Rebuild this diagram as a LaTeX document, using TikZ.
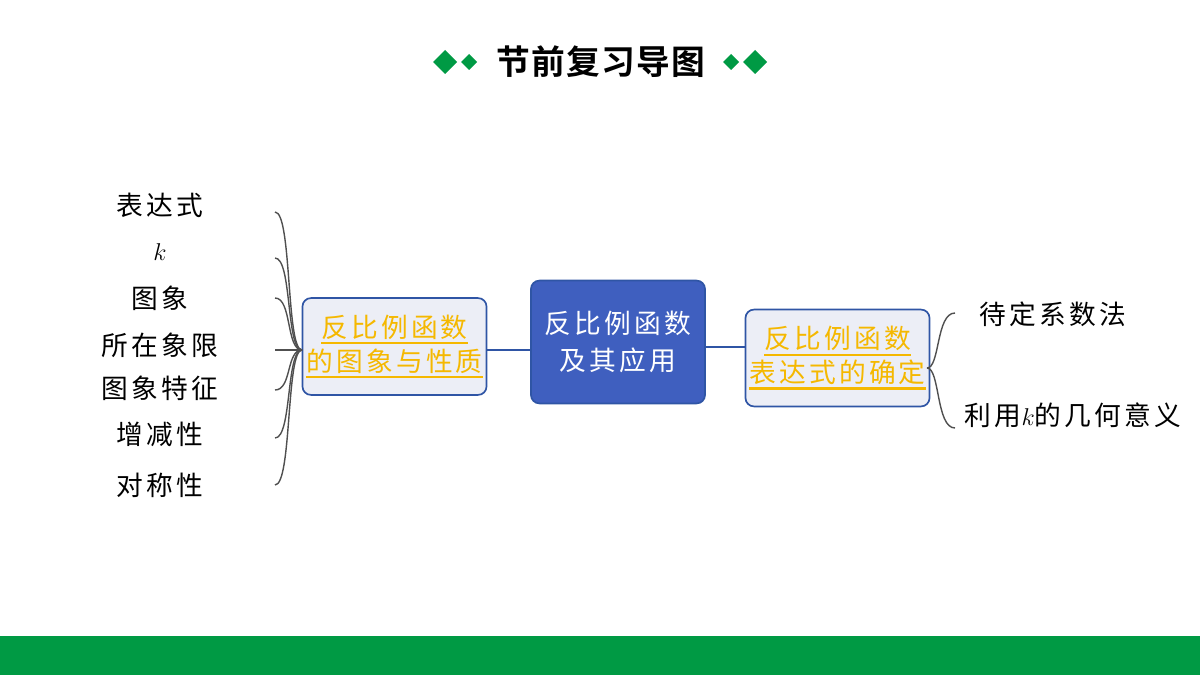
\documentclass[tikz,border=0pt]{standalone}
\usepackage{fontspec}
\setmainfont{Noto Sans CJK SC}[LetterSpace=12]
\newfontfamily\cjkbold{Noto Sans CJK SC Bold}
\usetikzlibrary{positioning,calc}
\definecolor{bandgreen}{RGB}{0,154,68}
\definecolor{boxblue}{RGB}{47,85,165}
\definecolor{corefill}{RGB}{63,95,191}
\definecolor{lightfill}{RGB}{236,238,246}
\definecolor{linkorange}{RGB}{245,184,0}
\definecolor{bracegray}{RGB}{80,80,80}
\newcommand\uln[1]{\setbox0\hbox{#1}\leavevmode\rlap{\rule[-5pt]{\wd0}{1.6pt}}\box0}
\tikzset{
    sub/.style={draw=boxblue, line width=1.2pt, fill=lightfill, rounded corners=6pt, align=center, text=linkorange,
        inner sep=0pt, minimum width=4.6cm, minimum height=2.42cm, font=\fontsize{19}{24}\selectfont},
    core/.style={draw=boxblue, line width=1.2pt, fill=corefill, rounded corners=6pt, align=center, text=white,
        inner sep=0pt, minimum width=4.35cm, minimum height=3.07cm, font=\fontsize{19}{26}\selectfont},
    item/.style={font=\fontsize{19}{22}\selectfont},
    brace/.style={bracegray, line width=1pt},
    link/.style={boxblue, line width=1.2pt},
    gem/.style={fill=bandgreen, draw=none}
}
\begin{document}
\begin{tikzpicture}[x=0.025cm, y=-0.025cm]
    \useasboundingbox (0,0) rectangle (1200,675);
    % Bottom band
    \fill[bandgreen] (0,636) rectangle (1200,675);

    % Title
    \node (title) at (601,62) {\cjkbold\fontsize{24}{28}\selectfont\addfontfeature{LetterSpace=4}节前复习导图};
    \foreach \x/\r in {445/12,469/8,731/8,755/12} {
        \fill[gem] (\x-\r,62) -- (\x,62-\r) -- (\x+\r,62) -- (\x,62+\r) -- cycle;
    }

    % Main nodes
    \node[core] (core) at (618,342) {反比例函数\\及其应用};
    \node[sub] (graph) at (394.5,346.5) {\uln{反比例函数}\\\uln{的图象与性质}};
    \node[sub] (expr) at (837.5,358) {\uln{反比例函数}\\\uln{表达式的确定}};

    % Links
    \draw[link] (graph.east |- 0,350) -- (core.west |- 0,350);
    \draw[link] (core.east |- 0,347) -- (expr.west |- 0,347);

    % Left items
    \coordinate (hubL) at (302,350);
    \foreach \n/\y/\t in {a/205/表达式,b/252/$k$,c/298/图象,d/345/所在象限,e/388/图象特征,f/434/增减性,g/485/对称性} {
        \node[item] (\n) at (160,\y) {\t};
    }
    \foreach \y in {212,258,298,350,390,438,485} {
        \coordinate (tip) at (275,\y);
        \draw[brace] (hubL) .. controls (286,350) and (292,\y) .. (tip);
    }

    % Right items
    \coordinate (hubR) at (927,368);
    \node[item, anchor=west] (fit) at (975,314) {待定系数法};
    \node[item, anchor=west] (geo) at (960,415) {利用$k$的几何意义};
    \coordinate (tA) at (955,313);
    \coordinate (tB) at (955,428);
    \draw[brace] (hubR) .. controls (940,368) and (936,313) .. (tA);
    \draw[brace] (hubR) .. controls (940,368) and (936,428) .. (tB);
\end{tikzpicture}
\end{document}
